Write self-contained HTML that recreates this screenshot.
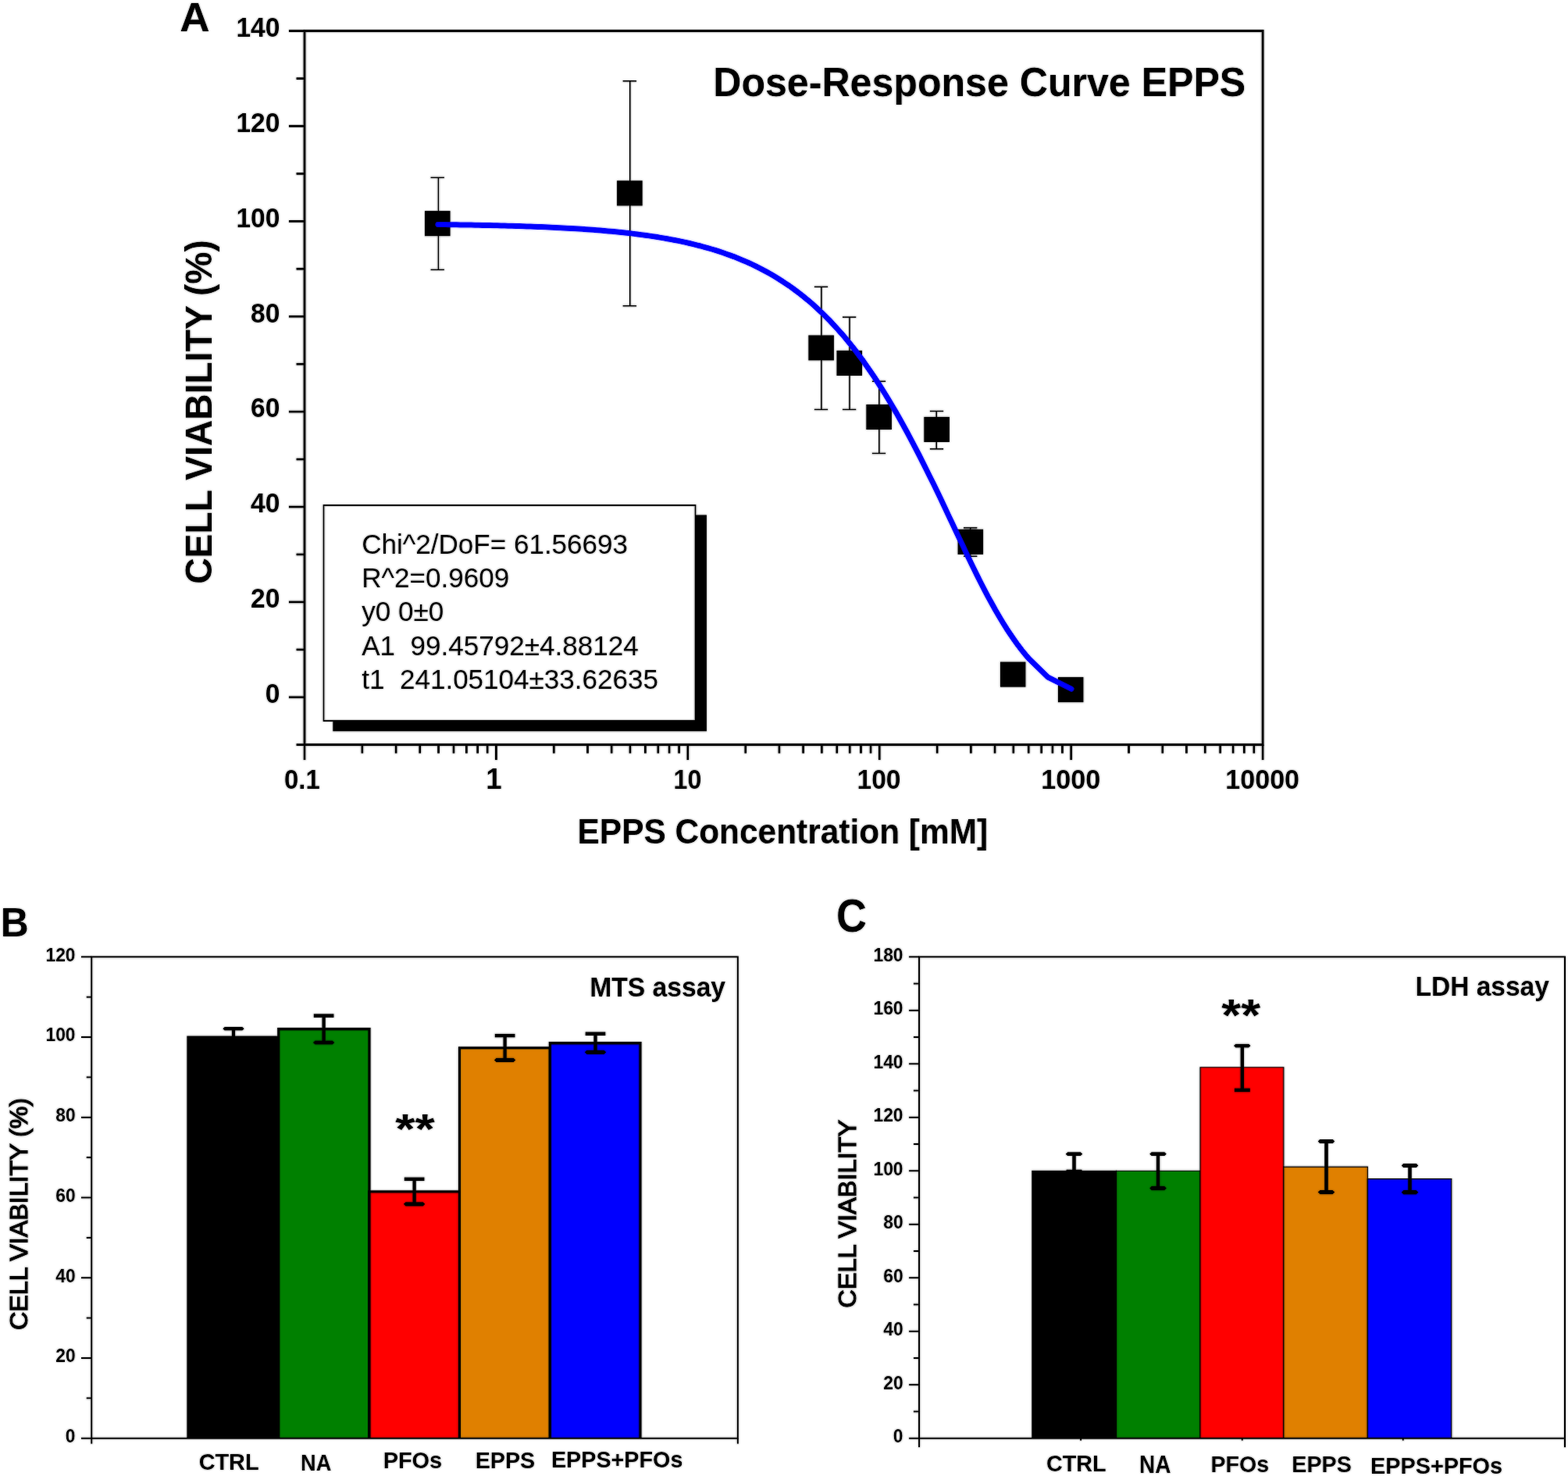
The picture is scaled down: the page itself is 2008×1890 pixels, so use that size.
<!DOCTYPE html>
<html><head><meta charset="utf-8"><title>Dose-Response Curve EPPS</title>
<style>
html,body{margin:0;padding:0;background:#fff;}
svg{display:block;}
text{font-family:"Liberation Sans", Arial, sans-serif;fill:#000;white-space:pre;}
</style></head>
<body>
<svg width="2008" height="1890" viewBox="0 0 2008 1890">
<defs><filter id="soft" x="0" y="0" width="2008" height="1890" filterUnits="userSpaceOnUse"><feGaussianBlur in="SourceGraphic" stdDeviation="0.8" result="b"/><feBlend mode="darken" in="SourceGraphic" in2="b"/></filter></defs>
<rect width="2008" height="1890" fill="#fff"/>
<g filter="url(#soft)">
<rect width="2008" height="1890" fill="#fff"/>
<line x1="561.40" y1="227.40" x2="561.40" y2="345.40" stroke="#000" stroke-width="1.6"/>
<line x1="551.50" y1="227.40" x2="568.90" y2="227.40" stroke="#000" stroke-width="1.6"/>
<line x1="551.50" y1="345.40" x2="568.90" y2="345.40" stroke="#000" stroke-width="1.6"/>
<line x1="806.80" y1="103.80" x2="806.80" y2="391.70" stroke="#000" stroke-width="1.6"/>
<line x1="797.60" y1="103.80" x2="815.00" y2="103.80" stroke="#000" stroke-width="1.6"/>
<line x1="797.60" y1="391.70" x2="815.00" y2="391.70" stroke="#000" stroke-width="1.6"/>
<line x1="1051.90" y1="367.30" x2="1051.90" y2="524.40" stroke="#000" stroke-width="1.6"/>
<line x1="1042.80" y1="367.30" x2="1060.20" y2="367.30" stroke="#000" stroke-width="1.6"/>
<line x1="1042.80" y1="524.40" x2="1060.20" y2="524.40" stroke="#000" stroke-width="1.6"/>
<line x1="1088.00" y1="406.10" x2="1088.00" y2="524.40" stroke="#000" stroke-width="1.6"/>
<line x1="1078.90" y1="406.10" x2="1096.30" y2="406.10" stroke="#000" stroke-width="1.6"/>
<line x1="1078.90" y1="524.40" x2="1096.30" y2="524.40" stroke="#000" stroke-width="1.6"/>
<line x1="1125.90" y1="488.30" x2="1125.90" y2="580.50" stroke="#000" stroke-width="1.6"/>
<line x1="1116.80" y1="488.30" x2="1134.20" y2="488.30" stroke="#000" stroke-width="1.6"/>
<line x1="1116.80" y1="580.50" x2="1134.20" y2="580.50" stroke="#000" stroke-width="1.6"/>
<line x1="1199.20" y1="526.50" x2="1199.20" y2="574.90" stroke="#000" stroke-width="1.6"/>
<line x1="1190.80" y1="526.50" x2="1208.20" y2="526.50" stroke="#000" stroke-width="1.6"/>
<line x1="1190.80" y1="574.90" x2="1208.20" y2="574.90" stroke="#000" stroke-width="1.6"/>
<line x1="1242.80" y1="675.90" x2="1242.80" y2="712.30" stroke="#000" stroke-width="1.6"/>
<line x1="1234.00" y1="675.90" x2="1251.40" y2="675.90" stroke="#000" stroke-width="1.6"/>
<line x1="1234.00" y1="712.30" x2="1251.40" y2="712.30" stroke="#000" stroke-width="1.6"/>
<rect x="544.00" y="270.10" width="32.60" height="32.20" fill="#000"/>
<rect x="790.10" y="231.30" width="32.60" height="32.20" fill="#000"/>
<rect x="1035.30" y="429.30" width="32.60" height="32.20" fill="#000"/>
<rect x="1071.40" y="448.80" width="32.60" height="32.20" fill="#000"/>
<rect x="1109.30" y="517.90" width="32.60" height="32.20" fill="#000"/>
<rect x="1183.30" y="533.80" width="32.60" height="32.20" fill="#000"/>
<rect x="1226.50" y="677.70" width="32.60" height="32.20" fill="#000"/>
<rect x="1280.90" y="847.50" width="32.60" height="32.20" fill="#000"/>
<rect x="1354.90" y="867.10" width="32.60" height="32.20" fill="#000"/>
<polyline fill="none" stroke="#0000ff" stroke-width="7" stroke-linejoin="round" stroke-linecap="round" points="560.9,287.5 565.7,287.6 570.4,287.6 575.1,287.7 579.9,287.8 584.6,287.8 589.3,287.9 594.1,288.0 598.8,288.1 603.5,288.1 608.3,288.2 613.0,288.3 617.8,288.4 622.5,288.5 627.2,288.6 632.0,288.7 636.7,288.8 641.4,288.9 646.2,289.1 650.9,289.2 655.6,289.3 660.4,289.5 665.1,289.6 669.8,289.8 674.6,289.9 679.3,290.1 684.0,290.3 688.8,290.4 693.5,290.6 698.2,290.8 703.0,291.0 707.7,291.2 712.4,291.5 717.2,291.7 721.9,291.9 726.6,292.2 731.4,292.5 736.1,292.7 740.8,293.0 745.6,293.3 750.3,293.7 755.0,294.0 759.8,294.3 764.5,294.7 769.2,295.1 774.0,295.5 778.7,295.9 783.4,296.3 788.2,296.8 792.9,297.3 797.6,297.8 802.4,298.3 807.1,298.8 811.8,299.4 816.6,300.0 821.3,300.6 826.1,301.2 830.8,301.9 835.5,302.6 840.3,303.3 845.0,304.1 849.7,304.9 854.5,305.7 859.2,306.6 863.9,307.5 868.7,308.4 873.4,309.4 878.1,310.4 882.9,311.5 887.6,312.6 892.3,313.8 897.1,315.0 901.8,316.3 906.5,317.6 911.3,319.0 916.0,320.4 920.7,321.9 925.5,323.5 930.2,325.2 934.9,326.9 939.7,328.6 944.4,330.5 949.1,332.4 953.9,334.4 958.6,336.5 963.3,338.7 968.1,341.0 972.8,343.3 977.5,345.8 982.3,348.4 987.0,351.0 991.7,353.8 996.5,356.7 1001.2,359.7 1005.9,362.8 1010.7,366.0 1015.4,369.4 1020.1,372.9 1024.9,376.5 1029.6,380.3 1034.4,384.2 1039.1,388.2 1043.8,392.4 1048.6,396.8 1053.3,401.3 1058.0,405.9 1062.8,410.8 1067.5,415.8 1072.2,421.0 1077.0,426.3 1081.7,431.8 1086.4,437.5 1091.2,443.4 1095.9,449.5 1100.6,455.8 1105.4,462.2 1110.1,468.9 1114.8,475.7 1119.6,482.8 1124.3,490.0 1129.0,497.4 1133.8,505.0 1138.5,512.8 1143.2,520.8 1148.0,528.9 1152.7,537.3 1157.4,545.8 1162.2,554.5 1166.9,563.3 1171.6,572.4 1176.4,581.5 1181.1,590.8 1185.8,600.2 1190.5,609.7 1195.3,619.3 1200.0,629.1 1204.7,638.8 1209.4,648.7 1214.0,658.6 1218.7,668.5 1223.4,678.4 1228.0,688.2 1232.7,698.1 1237.3,707.9 1241.9,717.6 1246.6,727.2 1251.2,736.6 1255.9,746.0 1260.6,755.1 1265.3,764.1 1270.1,772.8 1274.8,781.3 1279.6,789.5 1284.4,797.5 1289.2,805.2 1294.1,812.5 1298.9,819.5 1303.7,826.2 1308.6,832.6 1313.4,838.5 1318.2,844.1 1342.4,867.4 1372.0,882.2"/>
<rect x="390.0" y="39.6" width="1227.10" height="914.00" fill="none" stroke="#000" stroke-width="3"/>
<line x1="370.00" y1="892.80" x2="390.00" y2="892.80" stroke="#000" stroke-width="2.8"/>
<text transform="translate(339.72 900.10) scale(0.9450 1)" font-size="35.50" font-weight="bold"  xml:space="preserve">0</text>
<line x1="379.50" y1="831.86" x2="390.00" y2="831.86" stroke="#000" stroke-width="2.8"/>
<line x1="370.00" y1="770.91" x2="390.00" y2="770.91" stroke="#000" stroke-width="2.8"/>
<text transform="translate(321.10 778.21) scale(0.9450 1)" font-size="35.50" font-weight="bold"  xml:space="preserve">20</text>
<line x1="379.50" y1="709.97" x2="390.00" y2="709.97" stroke="#000" stroke-width="2.8"/>
<line x1="370.00" y1="649.03" x2="390.00" y2="649.03" stroke="#000" stroke-width="2.8"/>
<text transform="translate(321.10 656.33) scale(0.9450 1)" font-size="35.50" font-weight="bold"  xml:space="preserve">40</text>
<line x1="379.50" y1="588.09" x2="390.00" y2="588.09" stroke="#000" stroke-width="2.8"/>
<line x1="370.00" y1="527.14" x2="390.00" y2="527.14" stroke="#000" stroke-width="2.8"/>
<text transform="translate(321.10 534.44) scale(0.9450 1)" font-size="35.50" font-weight="bold"  xml:space="preserve">60</text>
<line x1="379.50" y1="466.20" x2="390.00" y2="466.20" stroke="#000" stroke-width="2.8"/>
<line x1="370.00" y1="405.26" x2="390.00" y2="405.26" stroke="#000" stroke-width="2.8"/>
<text transform="translate(321.10 412.56) scale(0.9450 1)" font-size="35.50" font-weight="bold"  xml:space="preserve">80</text>
<line x1="379.50" y1="344.31" x2="390.00" y2="344.31" stroke="#000" stroke-width="2.8"/>
<line x1="370.00" y1="283.37" x2="390.00" y2="283.37" stroke="#000" stroke-width="2.8"/>
<text transform="translate(302.40 290.67) scale(0.9450 1)" font-size="35.50" font-weight="bold"  xml:space="preserve">100</text>
<line x1="379.50" y1="222.43" x2="390.00" y2="222.43" stroke="#000" stroke-width="2.8"/>
<line x1="370.00" y1="161.49" x2="390.00" y2="161.49" stroke="#000" stroke-width="2.8"/>
<text transform="translate(302.40 168.79) scale(0.9450 1)" font-size="35.50" font-weight="bold"  xml:space="preserve">120</text>
<line x1="379.50" y1="100.54" x2="390.00" y2="100.54" stroke="#000" stroke-width="2.8"/>
<line x1="370.00" y1="39.60" x2="390.00" y2="39.60" stroke="#000" stroke-width="2.8"/>
<text transform="translate(302.40 46.90) scale(0.9450 1)" font-size="35.50" font-weight="bold"  xml:space="preserve">140</text>
<line x1="379.50" y1="953.60" x2="390.00" y2="953.60" stroke="#000" stroke-width="2.8"/>
<line x1="390.00" y1="953.60" x2="390.00" y2="973.10" stroke="#000" stroke-width="2.8"/>
<line x1="463.88" y1="953.60" x2="463.88" y2="964.60" stroke="#000" stroke-width="2.8"/>
<line x1="507.10" y1="953.60" x2="507.10" y2="964.60" stroke="#000" stroke-width="2.8"/>
<line x1="537.76" y1="953.60" x2="537.76" y2="964.60" stroke="#000" stroke-width="2.8"/>
<line x1="561.54" y1="953.60" x2="561.54" y2="964.60" stroke="#000" stroke-width="2.8"/>
<line x1="580.97" y1="953.60" x2="580.97" y2="964.60" stroke="#000" stroke-width="2.8"/>
<line x1="597.40" y1="953.60" x2="597.40" y2="964.60" stroke="#000" stroke-width="2.8"/>
<line x1="611.64" y1="953.60" x2="611.64" y2="964.60" stroke="#000" stroke-width="2.8"/>
<line x1="624.19" y1="953.60" x2="624.19" y2="964.60" stroke="#000" stroke-width="2.8"/>
<line x1="635.42" y1="953.60" x2="635.42" y2="973.10" stroke="#000" stroke-width="2.8"/>
<line x1="709.30" y1="953.60" x2="709.30" y2="964.60" stroke="#000" stroke-width="2.8"/>
<line x1="752.52" y1="953.60" x2="752.52" y2="964.60" stroke="#000" stroke-width="2.8"/>
<line x1="783.18" y1="953.60" x2="783.18" y2="964.60" stroke="#000" stroke-width="2.8"/>
<line x1="806.96" y1="953.60" x2="806.96" y2="964.60" stroke="#000" stroke-width="2.8"/>
<line x1="826.39" y1="953.60" x2="826.39" y2="964.60" stroke="#000" stroke-width="2.8"/>
<line x1="842.82" y1="953.60" x2="842.82" y2="964.60" stroke="#000" stroke-width="2.8"/>
<line x1="857.06" y1="953.60" x2="857.06" y2="964.60" stroke="#000" stroke-width="2.8"/>
<line x1="869.61" y1="953.60" x2="869.61" y2="964.60" stroke="#000" stroke-width="2.8"/>
<line x1="880.84" y1="953.60" x2="880.84" y2="973.10" stroke="#000" stroke-width="2.8"/>
<line x1="954.72" y1="953.60" x2="954.72" y2="964.60" stroke="#000" stroke-width="2.8"/>
<line x1="997.94" y1="953.60" x2="997.94" y2="964.60" stroke="#000" stroke-width="2.8"/>
<line x1="1028.60" y1="953.60" x2="1028.60" y2="964.60" stroke="#000" stroke-width="2.8"/>
<line x1="1052.38" y1="953.60" x2="1052.38" y2="964.60" stroke="#000" stroke-width="2.8"/>
<line x1="1071.81" y1="953.60" x2="1071.81" y2="964.60" stroke="#000" stroke-width="2.8"/>
<line x1="1088.24" y1="953.60" x2="1088.24" y2="964.60" stroke="#000" stroke-width="2.8"/>
<line x1="1102.48" y1="953.60" x2="1102.48" y2="964.60" stroke="#000" stroke-width="2.8"/>
<line x1="1115.03" y1="953.60" x2="1115.03" y2="964.60" stroke="#000" stroke-width="2.8"/>
<line x1="1126.26" y1="953.60" x2="1126.26" y2="973.10" stroke="#000" stroke-width="2.8"/>
<line x1="1200.14" y1="953.60" x2="1200.14" y2="964.60" stroke="#000" stroke-width="2.8"/>
<line x1="1243.36" y1="953.60" x2="1243.36" y2="964.60" stroke="#000" stroke-width="2.8"/>
<line x1="1274.02" y1="953.60" x2="1274.02" y2="964.60" stroke="#000" stroke-width="2.8"/>
<line x1="1297.80" y1="953.60" x2="1297.80" y2="964.60" stroke="#000" stroke-width="2.8"/>
<line x1="1317.23" y1="953.60" x2="1317.23" y2="964.60" stroke="#000" stroke-width="2.8"/>
<line x1="1333.66" y1="953.60" x2="1333.66" y2="964.60" stroke="#000" stroke-width="2.8"/>
<line x1="1347.90" y1="953.60" x2="1347.90" y2="964.60" stroke="#000" stroke-width="2.8"/>
<line x1="1360.45" y1="953.60" x2="1360.45" y2="964.60" stroke="#000" stroke-width="2.8"/>
<line x1="1371.68" y1="953.60" x2="1371.68" y2="973.10" stroke="#000" stroke-width="2.8"/>
<line x1="1445.56" y1="953.60" x2="1445.56" y2="964.60" stroke="#000" stroke-width="2.8"/>
<line x1="1488.78" y1="953.60" x2="1488.78" y2="964.60" stroke="#000" stroke-width="2.8"/>
<line x1="1519.44" y1="953.60" x2="1519.44" y2="964.60" stroke="#000" stroke-width="2.8"/>
<line x1="1543.22" y1="953.60" x2="1543.22" y2="964.60" stroke="#000" stroke-width="2.8"/>
<line x1="1562.65" y1="953.60" x2="1562.65" y2="964.60" stroke="#000" stroke-width="2.8"/>
<line x1="1579.08" y1="953.60" x2="1579.08" y2="964.60" stroke="#000" stroke-width="2.8"/>
<line x1="1593.32" y1="953.60" x2="1593.32" y2="964.60" stroke="#000" stroke-width="2.8"/>
<line x1="1605.87" y1="953.60" x2="1605.87" y2="964.60" stroke="#000" stroke-width="2.8"/>
<line x1="1617.10" y1="953.60" x2="1617.10" y2="973.10" stroke="#000" stroke-width="2.8"/>
<text transform="translate(364.09 1009.54) scale(0.9156 1)" font-size="35.76" font-weight="bold"  xml:space="preserve">0.1</text>
<text transform="translate(622.32 1009.90) scale(0.9935 1)" font-size="36.80" font-weight="bold"  xml:space="preserve">1</text>
<text transform="translate(862.59 1009.54) scale(0.8993 1)" font-size="35.76" font-weight="bold"  xml:space="preserve">10</text>
<text transform="translate(1097.50 1009.54) scale(0.9381 1)" font-size="35.76" font-weight="bold"  xml:space="preserve">100</text>
<text transform="translate(1333.27 1009.54) scale(0.9550 1)" font-size="35.76" font-weight="bold"  xml:space="preserve">1000</text>
<text transform="translate(1569.37 1009.54) scale(0.9525 1)" font-size="35.76" font-weight="bold"  xml:space="preserve">10000</text>
<text transform="translate(913.22 122.60) scale(0.9823 1)" font-size="51.00" font-weight="bold"  xml:space="preserve">Dose-Response Curve EPPS</text>
<text transform="translate(739.53 1080.00) scale(0.9691 1)" font-size="43.80" font-weight="bold"  xml:space="preserve">EPPS Concentration [mM]</text>
<text transform="translate(271.30 747.85) rotate(-90) scale(0.9648 1)" font-size="48.00" font-weight="bold"  xml:space="preserve">CELL VIABILITY (%)</text>
<text transform="translate(230.27 40.00) scale(1.0378 1)" font-size="51.20" font-weight="bold"  xml:space="preserve">A</text>
<rect x="426.30" y="659.40" width="478.60" height="277.00" fill="#000"/>
<rect x="414.50" y="647.00" width="476.00" height="276.00" fill="#fff" stroke="#000" stroke-width="1.8"/>
<text transform="translate(463.20 708.50) scale(1.0020 1)" font-size="35.00"  xml:space="preserve">Chi^2/DoF= 61.56693</text>
<text transform="translate(463.20 751.95) scale(1.0020 1)" font-size="35.00"  xml:space="preserve">R^2=0.9609</text>
<text transform="translate(463.20 795.40) scale(1.0020 1)" font-size="35.00"  xml:space="preserve">y0 0±0</text>
<text transform="translate(463.20 838.85) scale(1.0020 1)" font-size="35.00"  xml:space="preserve">A1  99.45792±4.88124</text>
<text transform="translate(463.20 882.30) scale(1.0020 1)" font-size="35.00"  xml:space="preserve">t1  241.05104±33.62635</text>
<rect x="241.00" y="1328.03" width="115.80" height="513.67" fill="#000000"/>
<polyline fill="none" stroke="#000" stroke-width="3.3" stroke-linejoin="miter" points="241.00,1842.00 241.00,1328.03 356.80,1328.03 356.80,1842.00"/>
<rect x="356.80" y="1317.76" width="116.20" height="523.94" fill="#008000"/>
<polyline fill="none" stroke="#009c00" stroke-width="1.2" points="359.05,1840.70 359.05,1320.01 470.75,1320.01 470.75,1840.70"/>
<polyline fill="none" stroke="#000" stroke-width="3.3" stroke-linejoin="miter" points="356.80,1842.00 356.80,1317.76 473.00,1317.76 473.00,1842.00"/>
<rect x="473.00" y="1525.80" width="115.50" height="315.90" fill="#ff0000"/>
<polyline fill="none" stroke="#000" stroke-width="3.3" stroke-linejoin="miter" points="473.00,1842.00 473.00,1525.80 588.50,1525.80 588.50,1842.00"/>
<rect x="588.50" y="1341.90" width="115.80" height="499.80" fill="#e08000"/>
<polyline fill="none" stroke="#ffa000" stroke-width="1.2" points="590.75,1840.70 590.75,1344.15 702.05,1344.15 702.05,1840.70"/>
<polyline fill="none" stroke="#000" stroke-width="3.3" stroke-linejoin="miter" points="588.50,1842.00 588.50,1341.90 704.30,1341.90 704.30,1842.00"/>
<rect x="704.30" y="1335.74" width="115.70" height="505.96" fill="#0000ff"/>
<polyline fill="none" stroke="#000" stroke-width="3.3" stroke-linejoin="miter" points="704.30,1842.00 704.30,1335.74 820.00,1335.74 820.00,1842.00"/>
<line x1="299.00" y1="1317.30" x2="299.00" y2="1338.00" stroke="#000" stroke-width="4.4"/>
<polygon fill="#000" points="285.30,1317.30 287.60,1315.00 310.40,1315.00 312.70,1317.30 310.40,1319.60 287.60,1319.60"/>
<rect x="286.10" y="1335.70" width="25.80" height="4.60" fill="#000"/>
<line x1="414.60" y1="1300.60" x2="414.60" y2="1335.00" stroke="#000" stroke-width="4.4"/>
<rect x="401.70" y="1298.30" width="25.80" height="4.60" fill="#000"/>
<polygon fill="#000" points="400.90,1335.00 403.50,1332.40 425.70,1332.40 428.30,1335.00 425.70,1337.60 403.50,1337.60"/>
<line x1="530.60" y1="1509.80" x2="530.60" y2="1541.80" stroke="#000" stroke-width="4.4"/>
<rect x="517.70" y="1507.50" width="25.80" height="4.60" fill="#000"/>
<polygon fill="#000" points="516.90,1541.80 519.50,1539.20 541.70,1539.20 544.30,1541.80 541.70,1544.40 519.50,1544.40"/>
<line x1="646.60" y1="1326.10" x2="646.60" y2="1357.40" stroke="#000" stroke-width="4.4"/>
<rect x="633.70" y="1323.80" width="25.80" height="4.60" fill="#000"/>
<polygon fill="#000" points="632.90,1357.40 635.50,1354.80 657.70,1354.80 660.30,1357.40 657.70,1360.00 635.50,1360.00"/>
<line x1="762.50" y1="1323.70" x2="762.50" y2="1347.30" stroke="#000" stroke-width="4.4"/>
<rect x="749.60" y="1321.40" width="25.80" height="4.60" fill="#000"/>
<polygon fill="#000" points="748.80,1347.30 751.40,1344.70 773.60,1344.70 776.20,1347.30 773.60,1349.90 751.40,1349.90"/>
<rect x="117.3" y="1225.3" width="827.50" height="616.40" fill="none" stroke="#000" stroke-width="2"/>
<line x1="104.00" y1="1841.70" x2="117.30" y2="1841.70" stroke="#000" stroke-width="2"/>
<text transform="translate(83.86 1847.10) scale(0.9700 1)" font-size="23.50" font-weight="bold"  xml:space="preserve">0</text>
<line x1="110.70" y1="1790.33" x2="117.30" y2="1790.33" stroke="#000" stroke-width="2"/>
<line x1="104.00" y1="1738.97" x2="117.30" y2="1738.97" stroke="#000" stroke-width="2"/>
<text transform="translate(71.21 1744.37) scale(0.9700 1)" font-size="23.50" font-weight="bold"  xml:space="preserve">20</text>
<line x1="110.70" y1="1687.60" x2="117.30" y2="1687.60" stroke="#000" stroke-width="2"/>
<line x1="104.00" y1="1636.23" x2="117.30" y2="1636.23" stroke="#000" stroke-width="2"/>
<text transform="translate(71.21 1641.63) scale(0.9700 1)" font-size="23.50" font-weight="bold"  xml:space="preserve">40</text>
<line x1="110.70" y1="1584.87" x2="117.30" y2="1584.87" stroke="#000" stroke-width="2"/>
<line x1="104.00" y1="1533.50" x2="117.30" y2="1533.50" stroke="#000" stroke-width="2"/>
<text transform="translate(71.21 1538.90) scale(0.9700 1)" font-size="23.50" font-weight="bold"  xml:space="preserve">60</text>
<line x1="110.70" y1="1482.13" x2="117.30" y2="1482.13" stroke="#000" stroke-width="2"/>
<line x1="104.00" y1="1430.77" x2="117.30" y2="1430.77" stroke="#000" stroke-width="2"/>
<text transform="translate(71.21 1436.17) scale(0.9700 1)" font-size="23.50" font-weight="bold"  xml:space="preserve">80</text>
<line x1="110.70" y1="1379.40" x2="117.30" y2="1379.40" stroke="#000" stroke-width="2"/>
<line x1="104.00" y1="1328.03" x2="117.30" y2="1328.03" stroke="#000" stroke-width="2"/>
<text transform="translate(58.50 1333.43) scale(0.9700 1)" font-size="23.50" font-weight="bold"  xml:space="preserve">100</text>
<line x1="110.70" y1="1276.67" x2="117.30" y2="1276.67" stroke="#000" stroke-width="2"/>
<line x1="104.00" y1="1225.30" x2="117.30" y2="1225.30" stroke="#000" stroke-width="2"/>
<text transform="translate(58.50 1230.70) scale(0.9700 1)" font-size="23.50" font-weight="bold"  xml:space="preserve">120</text>
<line x1="117.30" y1="1841.70" x2="117.30" y2="1848.70" stroke="#000" stroke-width="2"/>
<line x1="944.80" y1="1841.70" x2="944.80" y2="1848.70" stroke="#000" stroke-width="2"/>
<text transform="translate(254.65 1881.50) scale(0.9711 1)" font-size="29.68" font-weight="bold"  xml:space="preserve">CTRL</text>
<text transform="translate(385.06 1882.80) scale(0.8942 1)" font-size="30.40" font-weight="bold"  xml:space="preserve">NA</text>
<text transform="translate(490.65 1880.10) scale(0.9655 1)" font-size="29.96" font-weight="bold"  xml:space="preserve">PFOs</text>
<text transform="translate(608.76 1879.50) scale(0.9660 1)" font-size="29.68" font-weight="bold"  xml:space="preserve">EPPS</text>
<text transform="translate(705.96 1878.70) scale(0.9591 1)" font-size="29.96" font-weight="bold"  xml:space="preserve">EPPS+PFOs</text>
<text transform="translate(755.13 1275.80) scale(0.9563 1)" font-size="35.20" font-weight="bold"  xml:space="preserve">MTS assay</text>
<text transform="translate(506.14 1464.10) scale(1.2028 1)" font-size="53.96" font-weight="bold"  xml:space="preserve">**</text>
<text transform="translate(35.40 1702.91) rotate(-90) scale(1.0423 1)" font-size="30.90" stroke="#000" stroke-width="1.2" xml:space="preserve">CELL VIABILITY (%)</text>
<text transform="translate(0.74 1198.90) scale(0.9706 1)" font-size="51.35" font-weight="bold"  xml:space="preserve">B</text>
<rect x="1321.90" y="1499.26" width="107.70" height="342.44" fill="#000000"/>
<polyline fill="none" stroke="#000" stroke-width="1.2" stroke-linejoin="miter" points="1321.90,1842.00 1321.90,1499.26 1429.60,1499.26 1429.60,1842.00"/>
<rect x="1429.60" y="1499.26" width="107.40" height="342.44" fill="#008000"/>
<polyline fill="none" stroke="#000" stroke-width="1.2" stroke-linejoin="miter" points="1429.60,1842.00 1429.60,1499.26 1537.00,1499.26 1537.00,1842.00"/>
<rect x="1537.00" y="1366.73" width="106.90" height="474.97" fill="#ff0000"/>
<polyline fill="none" stroke="#000" stroke-width="1.2" stroke-linejoin="miter" points="1537.00,1842.00 1537.00,1366.73 1643.90,1366.73 1643.90,1842.00"/>
<rect x="1643.90" y="1494.12" width="107.40" height="347.58" fill="#e08000"/>
<polyline fill="none" stroke="#000" stroke-width="1.2" stroke-linejoin="miter" points="1643.90,1842.00 1643.90,1494.12 1751.30,1494.12 1751.30,1842.00"/>
<rect x="1751.30" y="1509.53" width="107.50" height="332.17" fill="#0000ff"/>
<polyline fill="none" stroke="#000" stroke-width="1.2" stroke-linejoin="miter" points="1751.30,1842.00 1751.30,1509.53 1858.80,1509.53 1858.80,1842.00"/>
<line x1="1375.50" y1="1477.70" x2="1375.50" y2="1500.00" stroke="#000" stroke-width="4.6"/>
<polygon fill="#000" points="1364.70,1477.70 1367.10,1475.30 1383.90,1475.30 1386.30,1477.70 1383.90,1480.10 1367.10,1480.10"/>
<rect x="1365.50" y="1497.60" width="20.00" height="4.80" fill="#000"/>
<line x1="1483.00" y1="1477.70" x2="1483.00" y2="1521.50" stroke="#000" stroke-width="4.6"/>
<polygon fill="#000" points="1472.20,1477.70 1474.60,1475.30 1491.40,1475.30 1493.80,1477.70 1491.40,1480.10 1474.60,1480.10"/>
<polygon fill="#000" points="1472.20,1521.50 1474.90,1518.80 1491.10,1518.80 1493.80,1521.50 1491.10,1524.20 1474.90,1524.20"/>
<line x1="1590.80" y1="1339.10" x2="1590.80" y2="1395.90" stroke="#000" stroke-width="4.6"/>
<polygon fill="#000" points="1580.00,1339.10 1582.40,1336.70 1599.20,1336.70 1601.60,1339.10 1599.20,1341.50 1582.40,1341.50"/>
<rect x="1580.80" y="1393.50" width="20.00" height="4.80" fill="#000"/>
<line x1="1698.50" y1="1461.50" x2="1698.50" y2="1526.60" stroke="#000" stroke-width="4.6"/>
<polygon fill="#000" points="1687.70,1461.50 1690.10,1459.10 1706.90,1459.10 1709.30,1461.50 1706.90,1463.90 1690.10,1463.90"/>
<polygon fill="#000" points="1687.70,1526.60 1690.40,1523.90 1706.60,1523.90 1709.30,1526.60 1706.60,1529.30 1690.40,1529.30"/>
<line x1="1805.50" y1="1492.50" x2="1805.50" y2="1526.80" stroke="#000" stroke-width="4.6"/>
<polygon fill="#000" points="1794.70,1492.50 1797.10,1490.10 1813.90,1490.10 1816.30,1492.50 1813.90,1494.90 1797.10,1494.90"/>
<polygon fill="#000" points="1794.70,1526.80 1797.40,1524.10 1813.60,1524.10 1816.30,1526.80 1813.60,1529.50 1797.40,1529.50"/>
<rect x="1177.1" y="1225.3" width="826.90" height="616.40" fill="none" stroke="#000" stroke-width="2"/>
<line x1="1164.10" y1="1841.70" x2="1177.10" y2="1841.70" stroke="#000" stroke-width="2"/>
<text transform="translate(1143.86 1847.20) scale(0.9700 1)" font-size="23.50" font-weight="bold"  xml:space="preserve">0</text>
<line x1="1169.90" y1="1807.46" x2="1177.10" y2="1807.46" stroke="#000" stroke-width="2"/>
<line x1="1164.10" y1="1773.21" x2="1177.10" y2="1773.21" stroke="#000" stroke-width="2"/>
<text transform="translate(1131.21 1778.71) scale(0.9700 1)" font-size="23.50" font-weight="bold"  xml:space="preserve">20</text>
<line x1="1169.90" y1="1738.97" x2="1177.10" y2="1738.97" stroke="#000" stroke-width="2"/>
<line x1="1164.10" y1="1704.72" x2="1177.10" y2="1704.72" stroke="#000" stroke-width="2"/>
<text transform="translate(1131.21 1710.22) scale(0.9700 1)" font-size="23.50" font-weight="bold"  xml:space="preserve">40</text>
<line x1="1169.90" y1="1670.48" x2="1177.10" y2="1670.48" stroke="#000" stroke-width="2"/>
<line x1="1164.10" y1="1636.23" x2="1177.10" y2="1636.23" stroke="#000" stroke-width="2"/>
<text transform="translate(1131.21 1641.73) scale(0.9700 1)" font-size="23.50" font-weight="bold"  xml:space="preserve">60</text>
<line x1="1169.90" y1="1601.99" x2="1177.10" y2="1601.99" stroke="#000" stroke-width="2"/>
<line x1="1164.10" y1="1567.74" x2="1177.10" y2="1567.74" stroke="#000" stroke-width="2"/>
<text transform="translate(1131.21 1573.24) scale(0.9700 1)" font-size="23.50" font-weight="bold"  xml:space="preserve">80</text>
<line x1="1169.90" y1="1533.50" x2="1177.10" y2="1533.50" stroke="#000" stroke-width="2"/>
<line x1="1164.10" y1="1499.26" x2="1177.10" y2="1499.26" stroke="#000" stroke-width="2"/>
<text transform="translate(1118.50 1504.76) scale(0.9700 1)" font-size="23.50" font-weight="bold"  xml:space="preserve">100</text>
<line x1="1169.90" y1="1465.01" x2="1177.10" y2="1465.01" stroke="#000" stroke-width="2"/>
<line x1="1164.10" y1="1430.77" x2="1177.10" y2="1430.77" stroke="#000" stroke-width="2"/>
<text transform="translate(1118.50 1436.27) scale(0.9700 1)" font-size="23.50" font-weight="bold"  xml:space="preserve">120</text>
<line x1="1169.90" y1="1396.52" x2="1177.10" y2="1396.52" stroke="#000" stroke-width="2"/>
<line x1="1164.10" y1="1362.28" x2="1177.10" y2="1362.28" stroke="#000" stroke-width="2"/>
<text transform="translate(1118.50 1367.78) scale(0.9700 1)" font-size="23.50" font-weight="bold"  xml:space="preserve">140</text>
<line x1="1169.90" y1="1328.03" x2="1177.10" y2="1328.03" stroke="#000" stroke-width="2"/>
<line x1="1164.10" y1="1293.79" x2="1177.10" y2="1293.79" stroke="#000" stroke-width="2"/>
<text transform="translate(1118.50 1299.29) scale(0.9700 1)" font-size="23.50" font-weight="bold"  xml:space="preserve">160</text>
<line x1="1169.90" y1="1259.54" x2="1177.10" y2="1259.54" stroke="#000" stroke-width="2"/>
<line x1="1164.10" y1="1225.30" x2="1177.10" y2="1225.30" stroke="#000" stroke-width="2"/>
<text transform="translate(1118.50 1230.80) scale(0.9700 1)" font-size="23.50" font-weight="bold"  xml:space="preserve">180</text>
<line x1="1177.10" y1="1841.70" x2="1177.10" y2="1853.20" stroke="#000" stroke-width="2"/>
<line x1="2004.00" y1="1841.70" x2="2004.00" y2="1853.20" stroke="#000" stroke-width="2"/>
<text transform="translate(1340.05 1883.71) scale(0.9812 1)" font-size="29.26" font-weight="bold"  xml:space="preserve">CTRL</text>
<text transform="translate(1459.11 1886.00) scale(0.9038 1)" font-size="30.98" font-weight="bold"  xml:space="preserve">NA</text>
<text transform="translate(1550.57 1884.71) scale(0.9752 1)" font-size="29.26" font-weight="bold"  xml:space="preserve">PFOs</text>
<text transform="translate(1654.36 1884.50) scale(0.9706 1)" font-size="29.54" font-weight="bold"  xml:space="preserve">EPPS</text>
<text transform="translate(1754.95 1886.50) scale(0.9764 1)" font-size="29.54" font-weight="bold"  xml:space="preserve">EPPS+PFOs</text>
<text transform="translate(1812.54 1275.30) scale(0.9520 1)" font-size="35.20" font-weight="bold"  xml:space="preserve">LDH assay</text>
<text transform="translate(1564.24 1320.07) scale(1.1037 1)" font-size="57.99" font-weight="bold"  xml:space="preserve">**</text>
<text transform="translate(1095.80 1674.73) rotate(-90) scale(1.0520 1)" font-size="30.90" stroke="#000" stroke-width="1.2" xml:space="preserve">CELL VIABILITY</text>
<line x1="1384.10" y1="1841.70" x2="1384.10" y2="1844.60" stroke="#000" stroke-width="2"/>
<line x1="1590.70" y1="1841.70" x2="1590.70" y2="1844.60" stroke="#000" stroke-width="2"/>
<line x1="1796.70" y1="1841.70" x2="1796.70" y2="1844.60" stroke="#000" stroke-width="2"/>
<text transform="translate(1070.94 1193.02) scale(0.9232 1)" font-size="58.37" font-weight="bold"  xml:space="preserve">C</text>
</g>
</svg>
</body></html>
